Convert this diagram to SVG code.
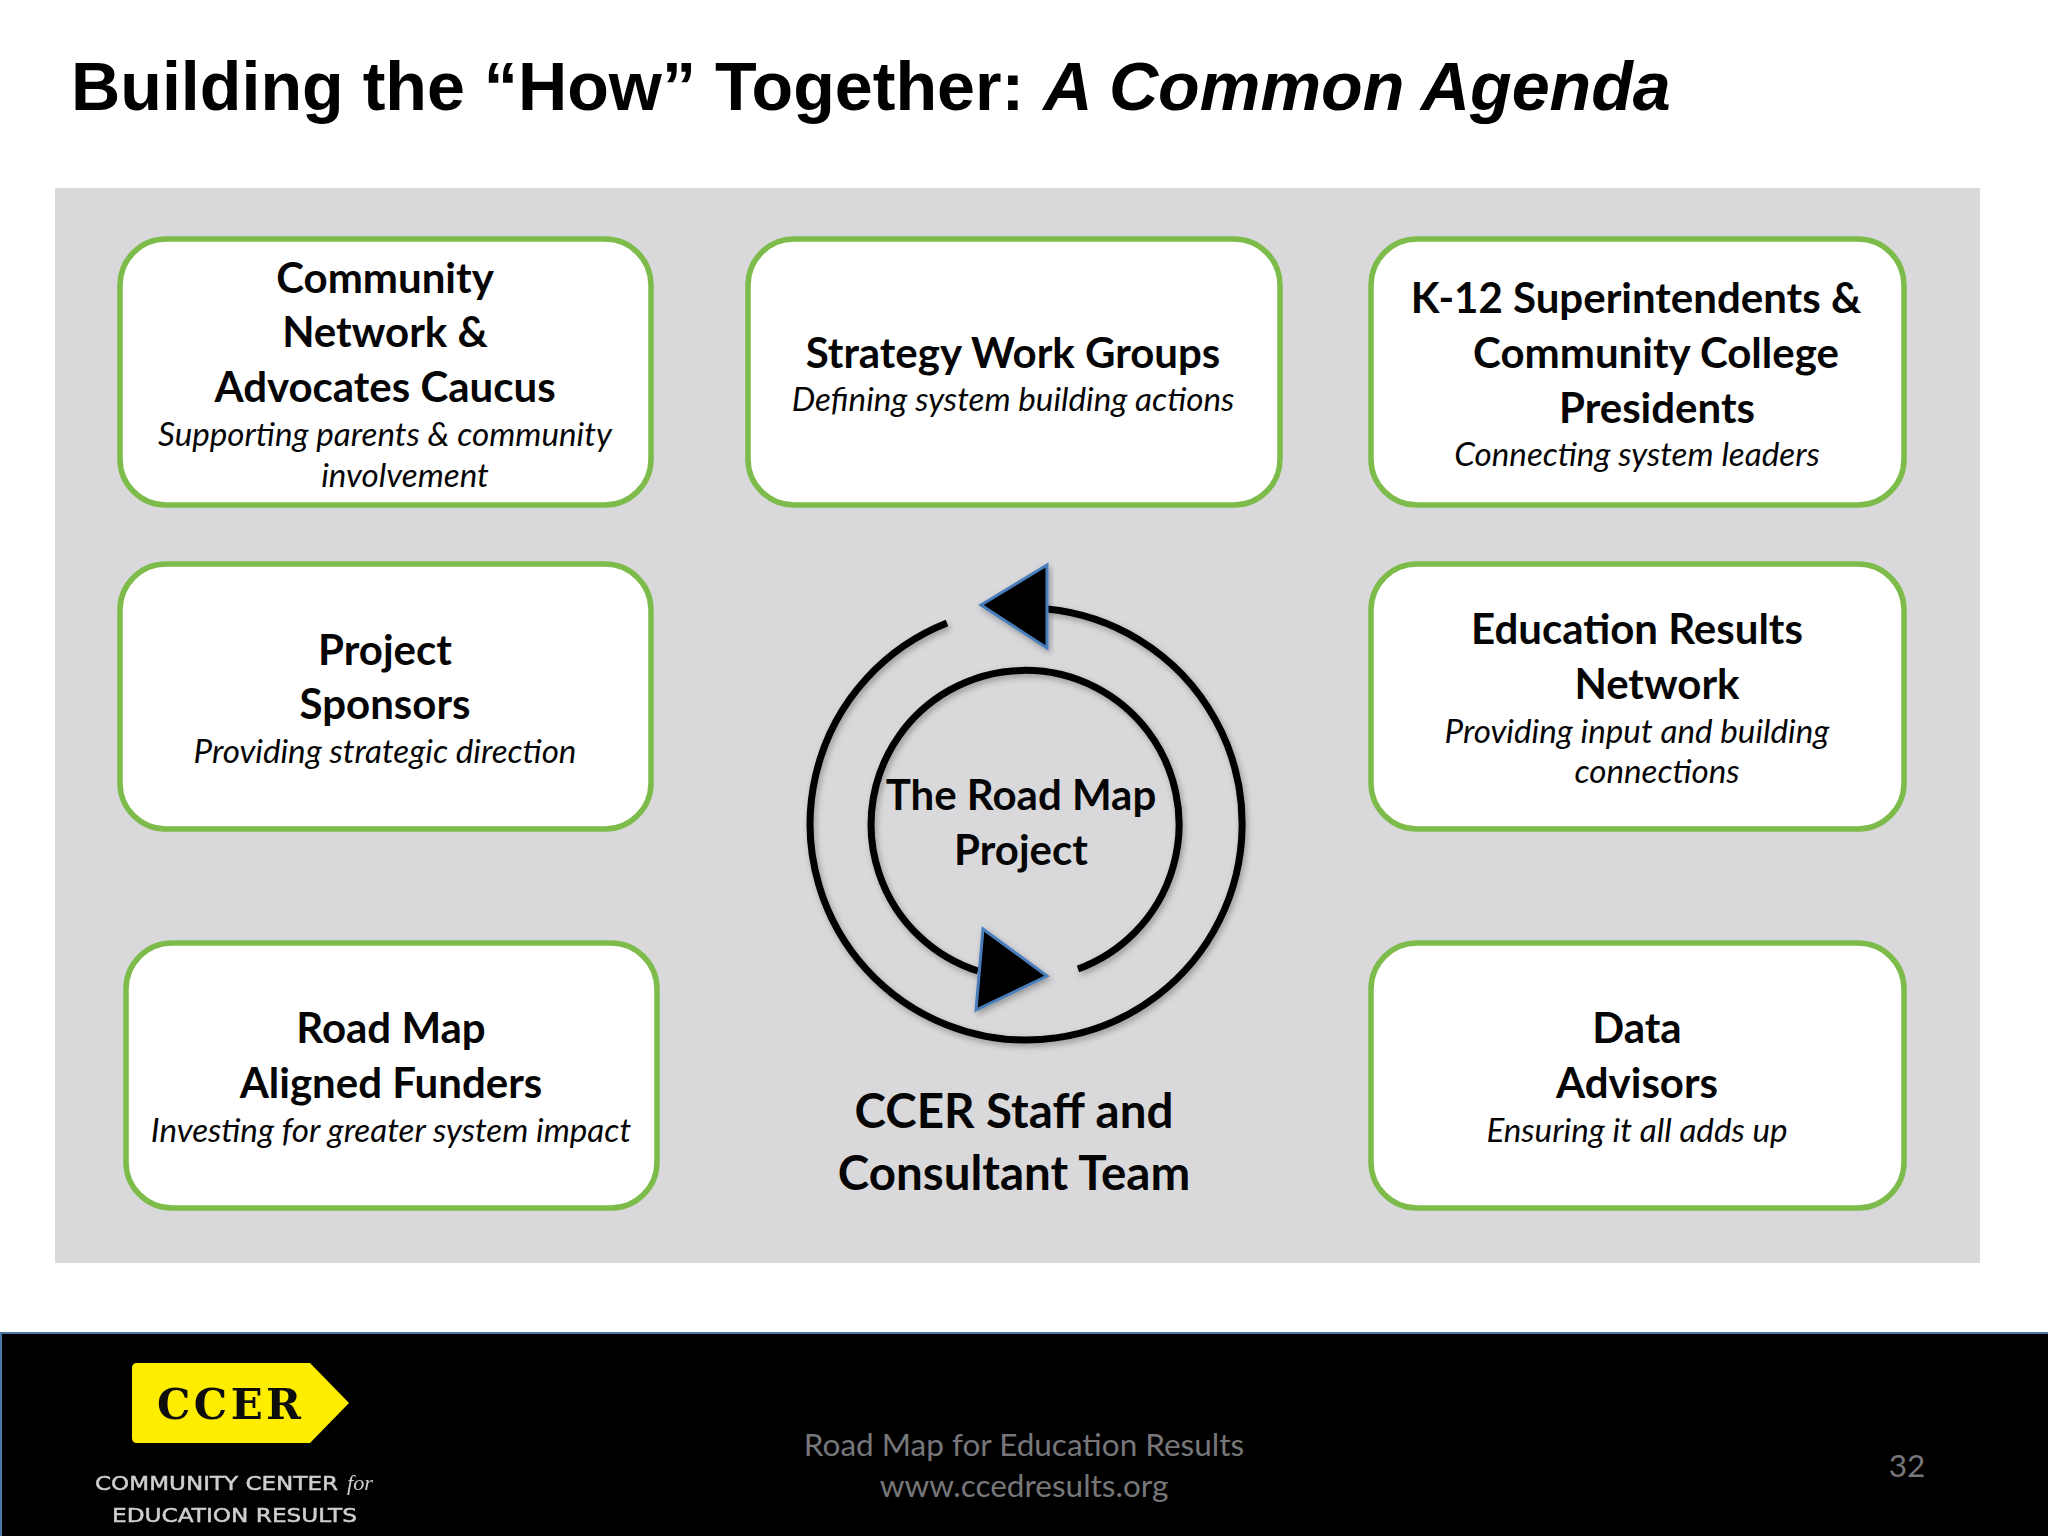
<svg xmlns="http://www.w3.org/2000/svg" width="2048" height="1536" viewBox="0 0 2048 1536">
<style>
text{font-family:"Lato","Open Sans",sans-serif;fill:#050505}
.h{font-size:42px;font-weight:700;text-anchor:middle}
.s{font-size:33.2px;font-style:italic;text-anchor:middle}
.b{fill:#fff;stroke:#7dbb4a;stroke-width:5.5}
.t{font-family:"Liberation Sans",Arial,sans-serif;font-size:68.2px;font-weight:700;fill:#000}
.c{font-size:47.5px;font-weight:700;text-anchor:middle}
.f{font-size:31.5px;fill:#77777a;text-anchor:middle}
.arc{fill:none;stroke:#000;stroke-width:7;filter:url(#sh)}
.tri{fill:#000;stroke:#4a7ebb;stroke-width:3;stroke-linejoin:miter;filter:url(#sh)}
.l{font-family:"DejaVu Sans",sans-serif;font-size:20px;fill:#cfcfcf;stroke:#cfcfcf;stroke-width:0.5}
</style>
<defs>
<filter id="sh" x="-10%" y="-10%" width="120%" height="120%"><feDropShadow dx="2" dy="3" stdDeviation="3" flood-color="#000" flood-opacity="0.3"/></filter>
<filter id="soft"><feGaussianBlur stdDeviation="0.6"/></filter>
</defs>
<rect width="2048" height="1536" fill="#fff"/>
<text id="title" class="t" x="71" y="110">Building the “How” Together: <tspan font-style="italic">A Common Agenda</tspan></text>
<rect id="panel" x="55" y="188" width="1925" height="1075" fill="#d9d9db"/>

<g id="node-community"><rect class="b" x="120" y="239" width="531" height="266" rx="46"/>
<text class="h" x="385" y="293">Community</text><text class="h" x="385" y="347">Network &amp;</text><text class="h" x="385" y="402">Advocates Caucus</text>
<text class="s" x="385" y="446">Supporting parents &amp; community</text><text class="s" x="405" y="487">involvement</text></g>

<g id="node-strategy"><rect class="b" x="748" y="239" width="532" height="266" rx="46"/>
<text class="h" x="1013" y="368">Strategy Work Groups</text><text class="s" x="1013" y="411">Defining system building actions</text></g>

<g id="node-k12"><rect class="b" x="1371" y="239" width="533" height="266" rx="46"/>
<text class="h" x="1636" y="313">K-12 Superintendents &amp;</text><text class="h" x="1656" y="368">Community College</text><text class="h" x="1657" y="423">Presidents</text>
<text class="s" x="1637" y="466">Connecting system leaders</text></g>

<g id="node-sponsors"><rect class="b" x="120" y="564" width="531" height="265" rx="46"/>
<text class="h" x="385" y="665">Project</text><text class="h" x="385" y="719">Sponsors</text><text class="s" x="385" y="763">Providing strategic direction</text></g>

<g id="node-network"><rect class="b" x="1371" y="564" width="533" height="265" rx="46"/>
<text class="h" x="1637" y="644">Education Results</text><text class="h" x="1657" y="699">Network</text>
<text class="s" x="1637" y="743">Providing input and building</text><text class="s" x="1657" y="783">connections</text></g>

<g id="node-funders"><rect class="b" x="126" y="943" width="531" height="265" rx="46"/>
<text class="h" x="391" y="1043">Road Map</text><text class="h" x="391" y="1098">Aligned Funders</text><text class="s" x="391" y="1142">Investing for greater system impact</text></g>

<g id="node-data"><rect class="b" x="1371" y="943" width="533" height="265" rx="46"/>
<text class="h" x="1637" y="1043">Data</text><text class="h" x="1637" y="1098">Advisors</text><text class="s" x="1637" y="1142">Ensuring it all adds up</text></g>

<g id="connectors">
<path class="arc" d="M1047 609A216 216 0 1 1 947 623"/>
<path class="arc" d="M1078 969A154 154 0 1 0 978 971"/>
<polygon class="tri" points="1047,565 981,605 1047,648"/>
<polygon class="tri" points="983,929 1047,976 976,1010"/>
</g>

<g id="node-roadmap"><text class="h" x="1021" y="810">The Road Map</text><text class="h" x="1021" y="865">Project</text></g>
<g id="node-ccer-team"><text class="c" x="1014" y="1128">CCER Staff and</text><text class="c" x="1014" y="1190">Consultant Team</text></g>

<g id="footer">
<rect x="1" y="1333" width="2060" height="210" fill="#000" stroke="#4a76a8" stroke-width="2"/>
<path d="M137 1363H310L349 1403L310 1443H137Q132 1443 132 1438V1368Q132 1363 137 1363Z" fill="#ffed00"/>
<text x="157" y="1419" textLength="144" lengthAdjust="spacing" filter="url(#soft)" style="font-family:'DejaVu Serif',serif;font-size:42px;font-weight:700;fill:#111">CCER</text>
<text class="l" x="95" y="1490" textLength="243" lengthAdjust="spacingAndGlyphs" filter="url(#soft)">COMMUNITY CENTER</text>
<text x="347" y="1490" textLength="26" lengthAdjust="spacingAndGlyphs" filter="url(#soft)" style="font-family:'Liberation Serif',serif;font-size:21px;font-style:italic;fill:#cfcfcf">for</text>
<text class="l" x="112" y="1522" textLength="245" lengthAdjust="spacingAndGlyphs" filter="url(#soft)">EDUCATION RESULTS</text>
<text class="f" x="1024" y="1456">Road Map for Education Results</text>
<text class="f" x="1024" y="1497">www.ccedresults.org</text>
<text class="f" x="1907" y="1477">32</text>
</g>
</svg>
